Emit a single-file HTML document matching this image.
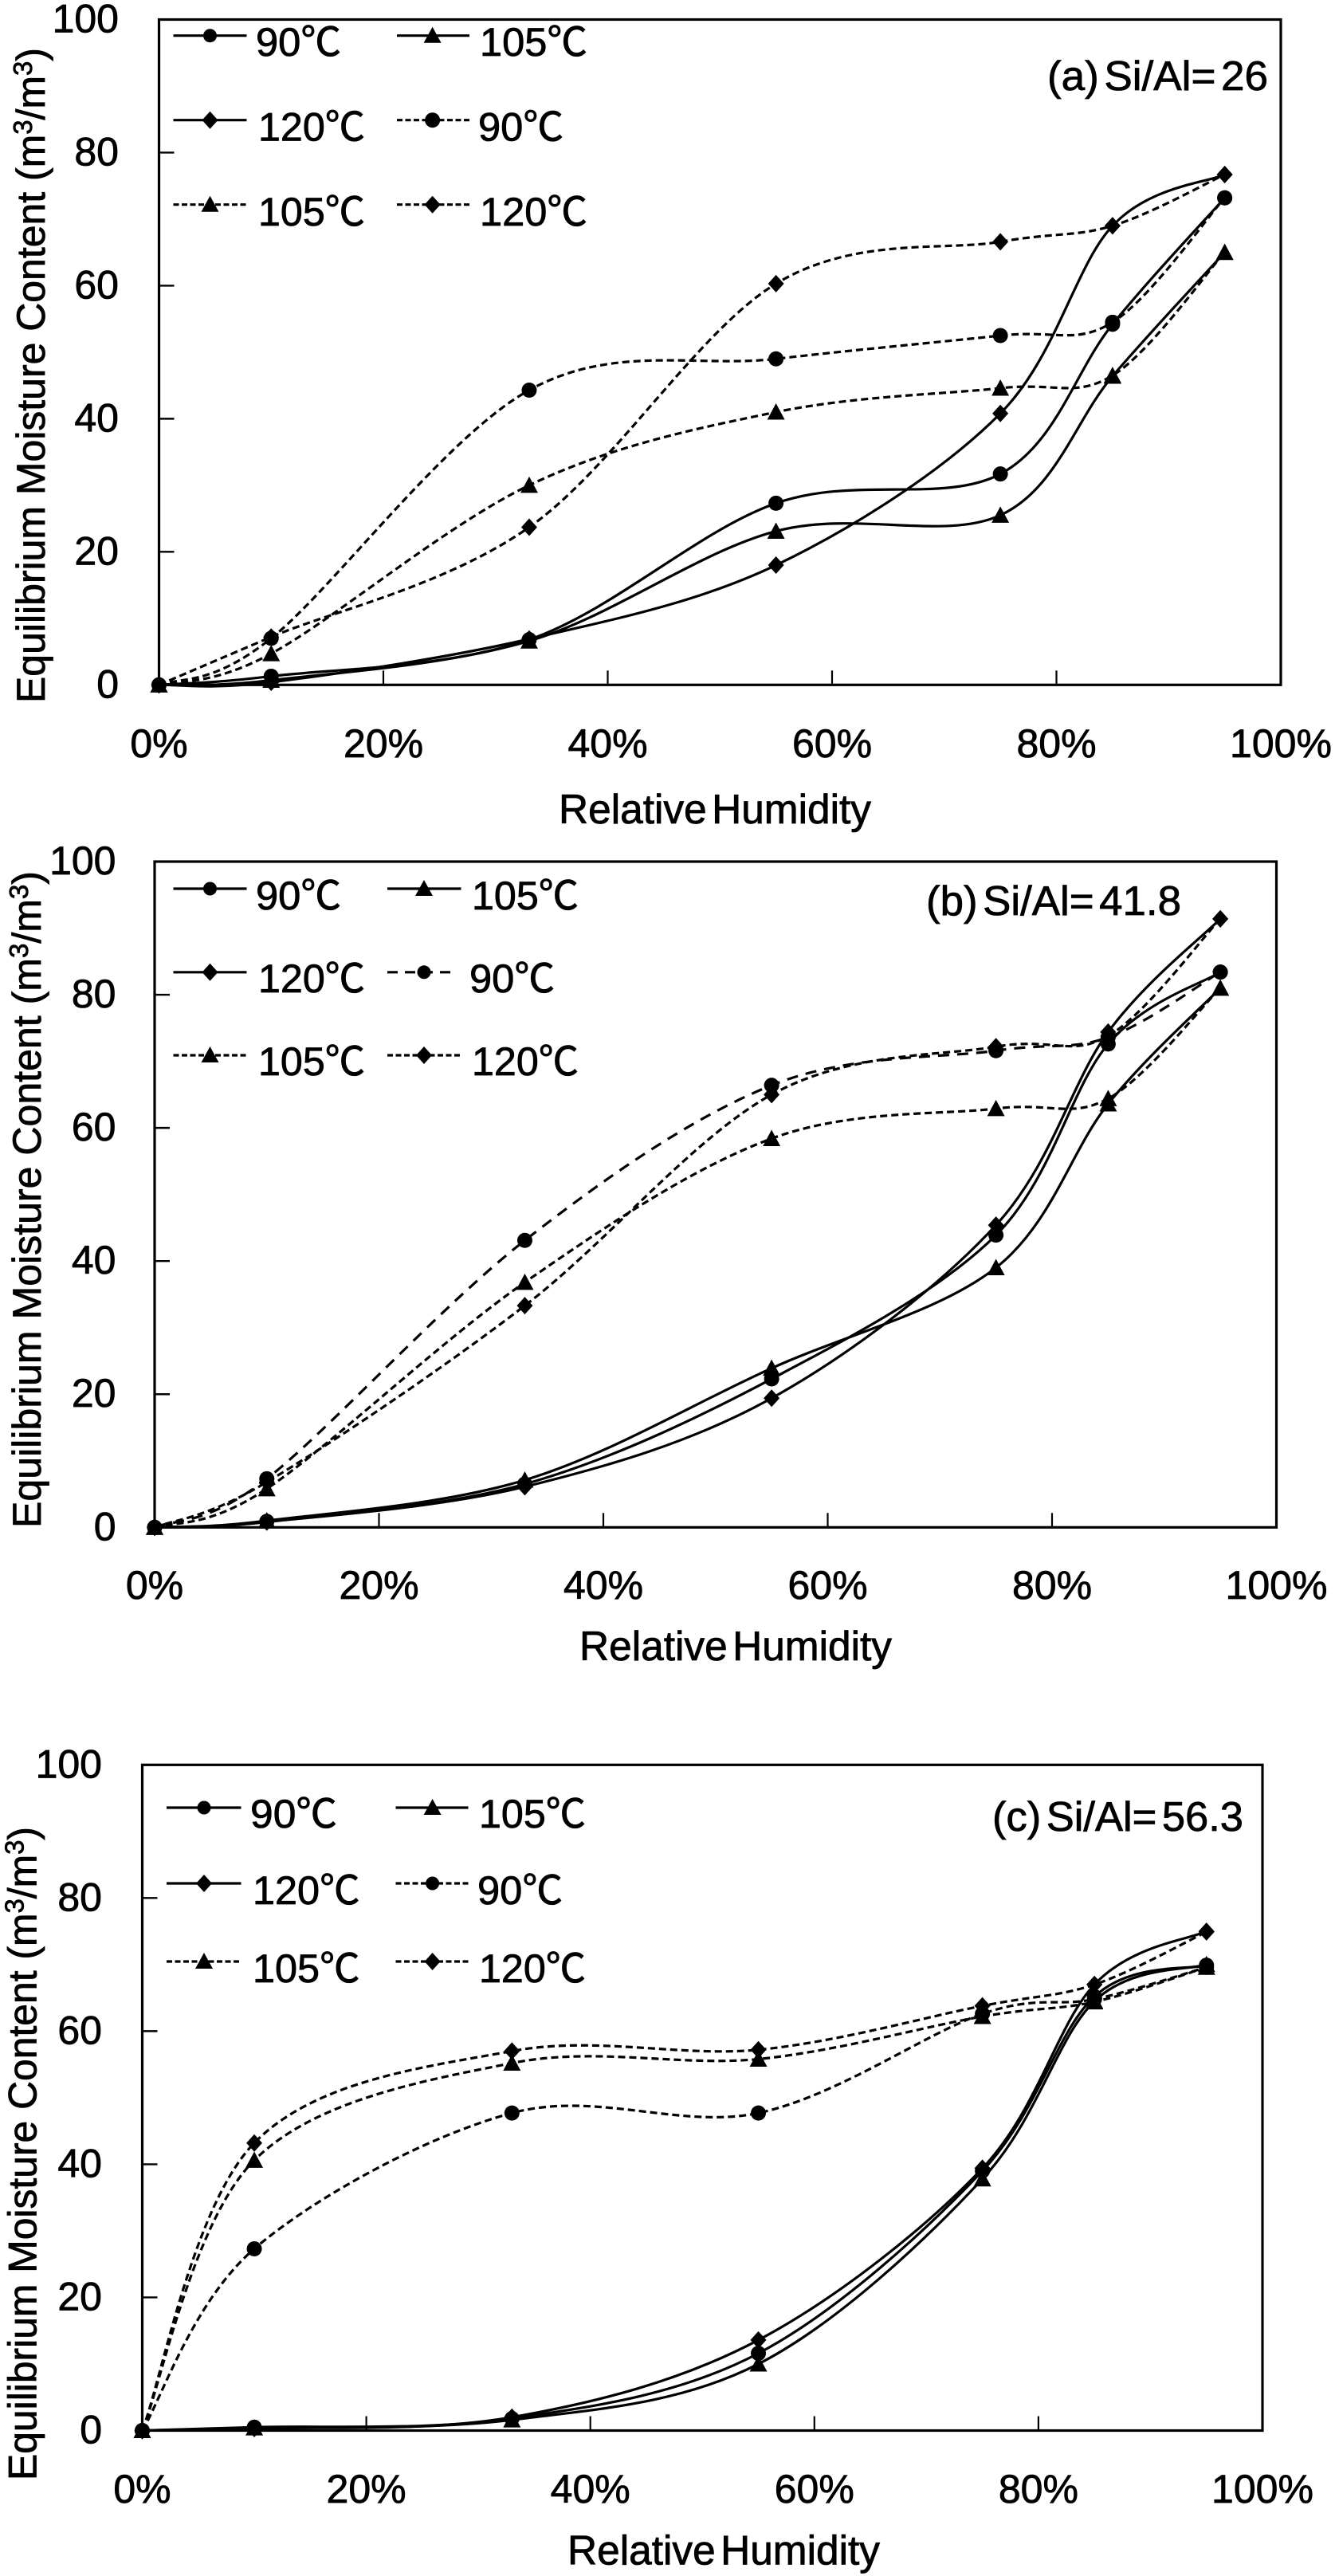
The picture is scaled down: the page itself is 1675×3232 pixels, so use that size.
<!DOCTYPE html>
<html lang="en">
<head>
<meta charset="utf-8">
<title>Equilibrium Moisture Content vs Relative Humidity</title>
<style>
html,body{margin:0;padding:0;background:#fff;}
svg{display:block;}
text{font-family:"Liberation Sans","Noto Sans CJK SC",sans-serif;font-size:50px;fill:#000;stroke:#000;stroke-width:0.8px;}
text.tight{word-spacing:-8px;font-size:52px;}
line.s{stroke:#000;stroke-width:3.2;}
line.d{stroke:#000;stroke-width:3.2;stroke-dasharray:7 3.5;}
line.l{stroke:#000;stroke-width:3.2;stroke-dasharray:13 9;}
</style>
</head>
<body>
<svg id="chart" xmlns="http://www.w3.org/2000/svg" width="1675" height="3232" viewBox="0 0 1675 3232">
  <rect width="1675" height="3232" fill="#fff"/>

  <g id="panel-a">
    <text transform="translate(56,882) rotate(-90)" textLength="822" lengthAdjust="spacingAndGlyphs">Equilibrium Moisture Content (m<tspan dy="-16" font-size="33">3</tspan><tspan dy="16">/m</tspan><tspan dy="-16" font-size="33">3</tspan><tspan dy="16">)</tspan></text>
    <text class="tight" x="701" y="1033" textLength="392" lengthAdjust="spacingAndGlyphs">Relative Humidity</text>
    <text class="tight" x="1314" y="113" textLength="277" lengthAdjust="spacingAndGlyphs">(a) Si/Al= 26</text>
    <g>
      <g><line class="s" x1="217.5" x2="309.5" y1="44.7" y2="44.7"/><circle cx="263.5" cy="44.7" r="8.5"/><text x="321" y="70" textLength="107" lengthAdjust="spacingAndGlyphs">90℃</text></g>
      <g><line class="s" x1="498" x2="589" y1="44.7" y2="44.7"/><polygon transform="translate(542.6,44.7)" points="0,-11 11,9 -11,9"/><text x="602" y="70" textLength="135" lengthAdjust="spacingAndGlyphs">105℃</text></g>
      <g><line class="s" x1="217.5" x2="309.5" y1="150.7" y2="150.7"/><polygon transform="translate(263.5,150.7)" points="0,-11 10,0 0,11 -10,0"/><text x="324" y="176.7" textLength="134" lengthAdjust="spacingAndGlyphs">120℃</text></g>
      <g><line class="d" x1="498" x2="589" y1="150.7" y2="150.7"/><circle cx="542.6" cy="150.7" r="9.5"/><text x="600" y="176.7" textLength="107" lengthAdjust="spacingAndGlyphs">90℃</text></g>
      <g><line class="d" x1="217.5" x2="309.5" y1="256.7" y2="256.7"/><polygon transform="translate(263.5,256.7)" points="0,-11 11,9 -11,9"/><text x="324" y="283" textLength="134" lengthAdjust="spacingAndGlyphs">105℃</text></g>
      <g><line class="d" x1="498" x2="589" y1="256.7" y2="256.7"/><polygon transform="translate(542.6,256.7)" points="0,-11 10,0 0,11 -10,0"/><text x="602" y="283" textLength="135" lengthAdjust="spacingAndGlyphs">120℃</text></g>
    </g>
  </g>

  <g id="panel-b">
    <text transform="translate(51,1917) rotate(-90)" textLength="824" lengthAdjust="spacingAndGlyphs">Equilibrium Moisture Content (m<tspan dy="-16" font-size="33">3</tspan><tspan dy="16">/m</tspan><tspan dy="-16" font-size="33">3</tspan><tspan dy="16">)</tspan></text>
    <text class="tight" x="727" y="2083" textLength="392" lengthAdjust="spacingAndGlyphs">Relative Humidity</text>
    <text class="tight" x="1162" y="1148" textLength="320" lengthAdjust="spacingAndGlyphs">(b) Si/Al= 41.8</text>
    <g>
      <g><line class="s" x1="217.5" x2="309.5" y1="1115" y2="1115"/><circle cx="263.5" cy="1115" r="8.5"/><text x="321" y="1141" textLength="107" lengthAdjust="spacingAndGlyphs">90℃</text></g>
      <g><line class="s" x1="486" x2="578.5" y1="1115" y2="1115"/><polygon transform="translate(532,1115)" points="0,-11 11,9 -11,9"/><text x="592" y="1141" textLength="134" lengthAdjust="spacingAndGlyphs">105℃</text></g>
      <g><line class="s" x1="217.5" x2="309.5" y1="1219.8" y2="1219.8"/><polygon transform="translate(263.5,1219.8)" points="0,-11 10,0 0,11 -10,0"/><text x="324" y="1245" textLength="134" lengthAdjust="spacingAndGlyphs">120℃</text></g>
      <g><line class="l" x1="486" x2="572" y1="1219.8" y2="1219.8"/><circle cx="532" cy="1219.8" r="8.5"/><text x="589" y="1245" textLength="107" lengthAdjust="spacingAndGlyphs">90℃</text></g>
      <g><line class="d" x1="217.5" x2="309.5" y1="1324" y2="1324"/><polygon transform="translate(263.5,1324)" points="0,-11 11,9 -11,9"/><text x="324" y="1349" textLength="134" lengthAdjust="spacingAndGlyphs">105℃</text></g>
      <g><line class="d" x1="486" x2="578.5" y1="1324" y2="1324"/><polygon transform="translate(532,1324)" points="0,-11 10,0 0,11 -10,0"/><text x="592" y="1349" textLength="134" lengthAdjust="spacingAndGlyphs">120℃</text></g>
    </g>
  </g>

  <g id="panel-c">
    <text transform="translate(45.5,3112) rotate(-90)" textLength="820" lengthAdjust="spacingAndGlyphs">Equilibrium Moisture Content (m<tspan dy="-16" font-size="33">3</tspan><tspan dy="16">/m</tspan><tspan dy="-16" font-size="33">3</tspan><tspan dy="16">)</tspan></text>
    <text class="tight" x="712" y="3217.5" textLength="392" lengthAdjust="spacingAndGlyphs">Relative Humidity</text>
    <text class="tight" x="1245" y="2297" textLength="315" lengthAdjust="spacingAndGlyphs">(c) Si/Al= 56.3</text>
    <g>
      <g><line class="s" x1="209" x2="302.5" y1="2268" y2="2268"/><circle cx="256" cy="2268" r="8.5"/><text x="314" y="2293" textLength="109" lengthAdjust="spacingAndGlyphs">90℃</text></g>
      <g><line class="s" x1="496.5" x2="587.5" y1="2268" y2="2268"/><polygon transform="translate(542.6,2268)" points="0,-11 11,9 -11,9"/><text x="601" y="2293" textLength="134" lengthAdjust="spacingAndGlyphs">105℃</text></g>
      <g><line class="s" x1="209" x2="302.5" y1="2363" y2="2363"/><polygon transform="translate(256,2363)" points="0,-11 10,0 0,11 -10,0"/><text x="317" y="2389" textLength="134.5" lengthAdjust="spacingAndGlyphs">120℃</text></g>
      <g><line class="d" x1="496.5" x2="587.5" y1="2363" y2="2363"/><circle cx="542.6" cy="2363" r="8.5"/><text x="599" y="2389" textLength="107" lengthAdjust="spacingAndGlyphs">90℃</text></g>
      <g><line class="d" x1="209" x2="302.5" y1="2461" y2="2461"/><polygon transform="translate(256,2461)" points="0,-11 11,9 -11,9"/><text x="317" y="2487" textLength="134.5" lengthAdjust="spacingAndGlyphs">105℃</text></g>
      <g><line class="d" x1="496.5" x2="587.5" y1="2461" y2="2461"/><polygon transform="translate(542.6,2461)" points="0,-11 10,0 0,11 -10,0"/><text x="601" y="2487" textLength="134" lengthAdjust="spacingAndGlyphs">120℃</text></g>
    </g>
  </g>
</svg>

<script>
/* Chart data: relative humidity (%) and moisture content (m3/m3) */
const relativeHumidity = [0, 10, 33, 55, 75, 85, 95];
const xTickValues = [0, 20, 40, 60, 80, 100];
const yTickValues = [0, 20, 40, 60, 80, 100];
const xTickLabels = ['0%', '20%', '40%', '60%', '80%', '100%'];
const yTickLabels = ['0', '20', '40', '60', '80', '100'];

const panelASolid90 = [0, 1.3, 6.8, 27.3, 31.7, 54.2, 73.2];
const panelASolid105 = [0, 0.7, 6.6, 23.1, 25.5, 46.4, 65.0];
const panelASolid120 = [0, 0.4, 6.9, 18.0, 40.8, 69.0, 76.7];
const panelADashed90 = [0, 7.0, 44.3, 49.0, 52.5, 54.5, 73.2];
const panelADashed105 = [0, 4.7, 30.0, 41.0, 44.6, 46.5, 65.0];
const panelADashed120 = [0, 7.2, 23.7, 60.3, 66.6, 69.0, 76.7];

const panelBSolid90 = [0, 0.9, 6.5, 22.3, 43.9, 72.6, 83.4];
const panelBSolid105 = [0, 1.0, 7.1, 23.9, 39.0, 63.6, 81.0];
const panelBSolid120 = [0, 0.8, 6.1, 19.4, 45.4, 74.4, 91.4];
const panelBDashed90 = [0, 7.3, 43.1, 66.4, 71.6, 73.6, 83.4];
const panelBDashed105 = [0, 5.8, 36.8, 58.4, 62.9, 64.4, 81.0];
const panelBDashed120 = [0, 6.8, 33.3, 65.0, 72.2, 73.8, 91.4];

const panelCSolid90 = [0, 0.5, 1.8, 11.6, 39.0, 65.2, 69.9];
const panelCSolid105 = [0, 0.4, 1.6, 10.0, 37.8, 64.5, 70.0];
const panelCSolid120 = [0, 0.3, 2.0, 13.6, 39.4, 67.0, 75.0];
const panelCDashed90 = [0, 27.3, 47.7, 47.7, 62.6, 64.8, 69.6];
const panelCDashed105 = [0, 40.6, 55.2, 55.8, 62.2, 64.4, 69.6];
const panelCDashed120 = [0, 43.2, 57.0, 57.2, 63.8, 67.0, 74.9];

const SHORT_DASH = '9 5';
const LONG_DASH = '14 10';

const panels = [
  { id: 'panel-a', left: 199.5, right: 1607, top: 24.5, bottom: 859.3, yLabelRight: 149, xLabelBaseline: 950,
    series: [
      { values: panelASolid90, marker: 'circle', dash: null },
      { values: panelASolid105, marker: 'triangle', dash: null },
      { values: panelASolid120, marker: 'diamond', dash: null },
      { values: panelADashed90, marker: 'circle', dash: SHORT_DASH },
      { values: panelADashed105, marker: 'triangle', dash: SHORT_DASH },
      { values: panelADashed120, marker: 'diamond', dash: SHORT_DASH }
    ] },
  { id: 'panel-b', left: 194, right: 1601.5, top: 1081, bottom: 1916.3, yLabelRight: 145.5, xLabelBaseline: 2006,
    series: [
      { values: panelBSolid90, marker: 'circle', dash: null },
      { values: panelBSolid105, marker: 'triangle', dash: null },
      { values: panelBSolid120, marker: 'diamond', dash: null },
      { values: panelBDashed90, marker: 'circle', dash: LONG_DASH },
      { values: panelBDashed105, marker: 'triangle', dash: SHORT_DASH },
      { values: panelBDashed120, marker: 'diamond', dash: SHORT_DASH }
    ] },
  { id: 'panel-c', left: 178.5, right: 1584, top: 2214.3, bottom: 3049.5, yLabelRight: 128, xLabelBaseline: 3140,
    series: [
      { values: panelCSolid90, marker: 'circle', dash: null },
      { values: panelCSolid105, marker: 'triangle', dash: null },
      { values: panelCSolid120, marker: 'diamond', dash: null },
      { values: panelCDashed90, marker: 'circle', dash: SHORT_DASH },
      { values: panelCDashed105, marker: 'triangle', dash: SHORT_DASH },
      { values: panelCDashed120, marker: 'diamond', dash: SHORT_DASH }
    ] }
];

const SVG_NS = 'http://www.w3.org/2000/svg';

function create(tag, parent, attrs) {
  const node = document.createElementNS(SVG_NS, tag);
  for (const key in attrs) {
    node.setAttribute(key, attrs[key]);
  }
  parent.appendChild(node);
  return node;
}

function xScale(panel, rh) {
  return panel.left + (rh / 100) * (panel.right - panel.left);
}

function yScale(panel, value) {
  return panel.bottom - (value / 100) * (panel.bottom - panel.top);
}

/* Spreadsheet-style smoothed line through the data points */
function smoothPath(points) {
  let d = 'M' + points[0][0].toFixed(2) + ',' + points[0][1].toFixed(2);
  for (let i = 0; i < points.length - 1; i++) {
    const p0 = points[Math.max(i - 1, 0)];
    const p1 = points[i];
    const p2 = points[i + 1];
    const p3 = points[Math.min(i + 2, points.length - 1)];
    const c1x = p1[0] + (p2[0] - p0[0]) / 6;
    const c1y = p1[1] + (p2[1] - p0[1]) / 6;
    const c2x = p2[0] - (p3[0] - p1[0]) / 6;
    const c2y = p2[1] - (p3[1] - p1[1]) / 6;
    d += 'C' + c1x.toFixed(2) + ',' + c1y.toFixed(2) + ' ' + c2x.toFixed(2) + ',' + c2y.toFixed(2) + ' ' + p2[0].toFixed(2) + ',' + p2[1].toFixed(2);
  }
  return d;
}

function drawMarker(parent, kind, cx, cy) {
  let el;
  if (kind === 'circle') {
    el = create('circle', parent, { cx: cx, cy: cy, r: 9.5, fill: '#000' });
  } else if (kind === 'triangle') {
    el = create('polygon', parent, { points: cx + ',' + (cy - 11) + ' ' + (cx + 11) + ',' + (cy + 9.5) + ' ' + (cx - 11) + ',' + (cy + 9.5), fill: '#000' });
  } else {
    el = create('polygon', parent, { points: cx + ',' + (cy - 11) + ' ' + (cx + 10) + ',' + cy + ' ' + cx + ',' + (cy + 11) + ' ' + (cx - 10) + ',' + cy, fill: '#000' });
  }
  
  
}

panels.forEach(function (panel) {
  const group = document.getElementById(panel.id);

  yTickValues.forEach(function (value, i) {
    const y = yScale(panel, value);
    if (value > 0 && value < 100) {
      const el = create('line', group, { x1: panel.left, x2: panel.left + 19, y1: y, y2: y, stroke: '#000', 'stroke-width': 2.4 });
      
      
    }
    const label = create('text', group, { x: panel.yLabelRight, y: y + 16, 'text-anchor': 'end' });
    label.textContent = yTickLabels[i];
    
    
  });

  xTickValues.forEach(function (value, i) {
    const x = xScale(panel, value);
    if (value > 0 && value < 100) {
      const el = create('line', group, { x1: x, x2: x, y1: panel.bottom, y2: panel.bottom - 18, stroke: '#000', 'stroke-width': 2.2 });
      
      
    }
    const label = create('text', group, { x: x, y: panel.xLabelBaseline, 'text-anchor': 'middle' });
    label.textContent = xTickLabels[i];
    
    
  });

  const frame = create('rect', group, { x: panel.left, y: panel.top, width: panel.right - panel.left, height: panel.bottom - panel.top, fill: 'none', stroke: '#000', 'stroke-width': 3.2 });
  
  

  panel.series.forEach(function (series) {
    const points = series.values.map(function (value, i) {
      return [xScale(panel, relativeHumidity[i]), yScale(panel, value)];
    });
    const attrs = { d: smoothPath(points), fill: 'none', stroke: '#000', 'stroke-width': 3.2 };
    if (series.dash) {
      attrs['stroke-dasharray'] = series.dash;
    }
    const line = create('path', group, attrs);
    
    
    points.forEach(function (p) {
      drawMarker(group, series.marker, p[0], p[1]);
    });
  });
});
</script>
</body>
</html>
